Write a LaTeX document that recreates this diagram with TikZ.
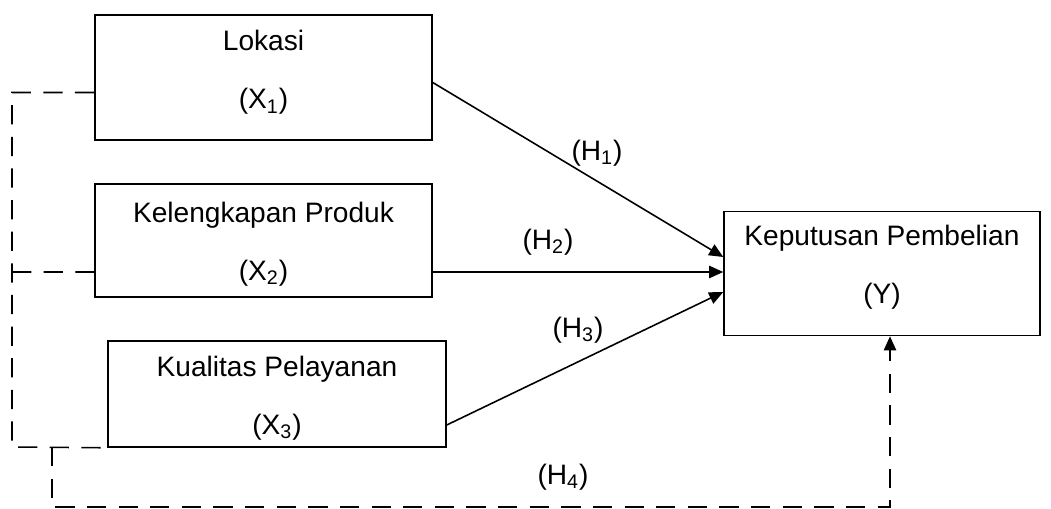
\documentclass[tikz,border=0pt]{standalone}
\usepackage{fontspec}
\setmainfont{Liberation Sans}
\usetikzlibrary{arrows.meta,calc}

\begin{document}
\begin{tikzpicture}[x=0.02cm,y=-0.02cm,
    box/.style={draw,line width=0.9pt,inner sep=0pt},
    boxtext/.style={align=center,font=\fontsize{16}{19}\selectfont},
    hyp/.style={font=\fontsize{16}{19}\selectfont},
    link/.style={line width=0.9pt,-{Triangle[length=8pt,width=7pt]}},
    dashlink/.style={line width=0.9pt,dash pattern=on 11pt off 7pt}]
    \useasboundingbox (0,0) rectangle (1051,509);
    \node[box,minimum width=6.74cm,minimum height=2.5cm] (X1) at (263.5,77.5) {};
    \node[box,minimum width=6.74cm,minimum height=2.26cm] (X2) at (263.5,240.5) {};
    \node[box,minimum width=6.76cm,minimum height=2.12cm] (X3) at (277,394) {};
    \node[box,minimum width=6.32cm,minimum height=2.48cm] (Y) at (882,273.5) {};
    \node[boxtext] (lokasi) at (263.5,72.5) {Lokasi\\[14pt](X\textsubscript{1})};
    \node[boxtext] (produk) at (263.5,244) {Kelengkapan Produk\\[14pt](X\textsubscript{2})};
    \node[boxtext] (layanan) at (277,398) {Kualitas Pelayanan\\[14pt](X\textsubscript{3})};
    \node[boxtext] (keputusan) at (882,267) {Keputusan Pembelian\\[14pt](Y)};
    \draw[link] ($(X1.east)+(0,5)$) -- ($(Y.west)+(0,-16.5)$);
    \draw[link] ($(X2.east)+(0,31.5)$) -- ($(Y.west)+(0,-1.5)$);
    \draw[link] ($(X3.east)+(0,31)$) -- ($(Y.west)+(0,18.5)$);
    \node[hyp] (H1) at (597,153) {(H\textsubscript{1})};
    \node[hyp] (H2) at (548,242) {(H\textsubscript{2})};
    \node[hyp] (H3) at (578,330) {(H\textsubscript{3})};
    \node[hyp] (H4) at (563,477) {(H\textsubscript{4})};
    \coordinate (side) at (12,447);
    \coordinate (mid) at (12,272);
    \coordinate (drop) at (52,447);
    \coordinate (base) at (890,507);
    \draw[dashlink] ($(X1.west)+(0,15)$) -| (side) -- (X3.south west);
    \draw[dashlink] (mid) -- ($(X2.west)+(0,31.5)$);
    \draw[dashlink,-{Triangle[length=8pt,width=7pt]}] (drop) |- (base) -- ($(Y.south)+(8,0)$);
\end{tikzpicture}
\end{document}
